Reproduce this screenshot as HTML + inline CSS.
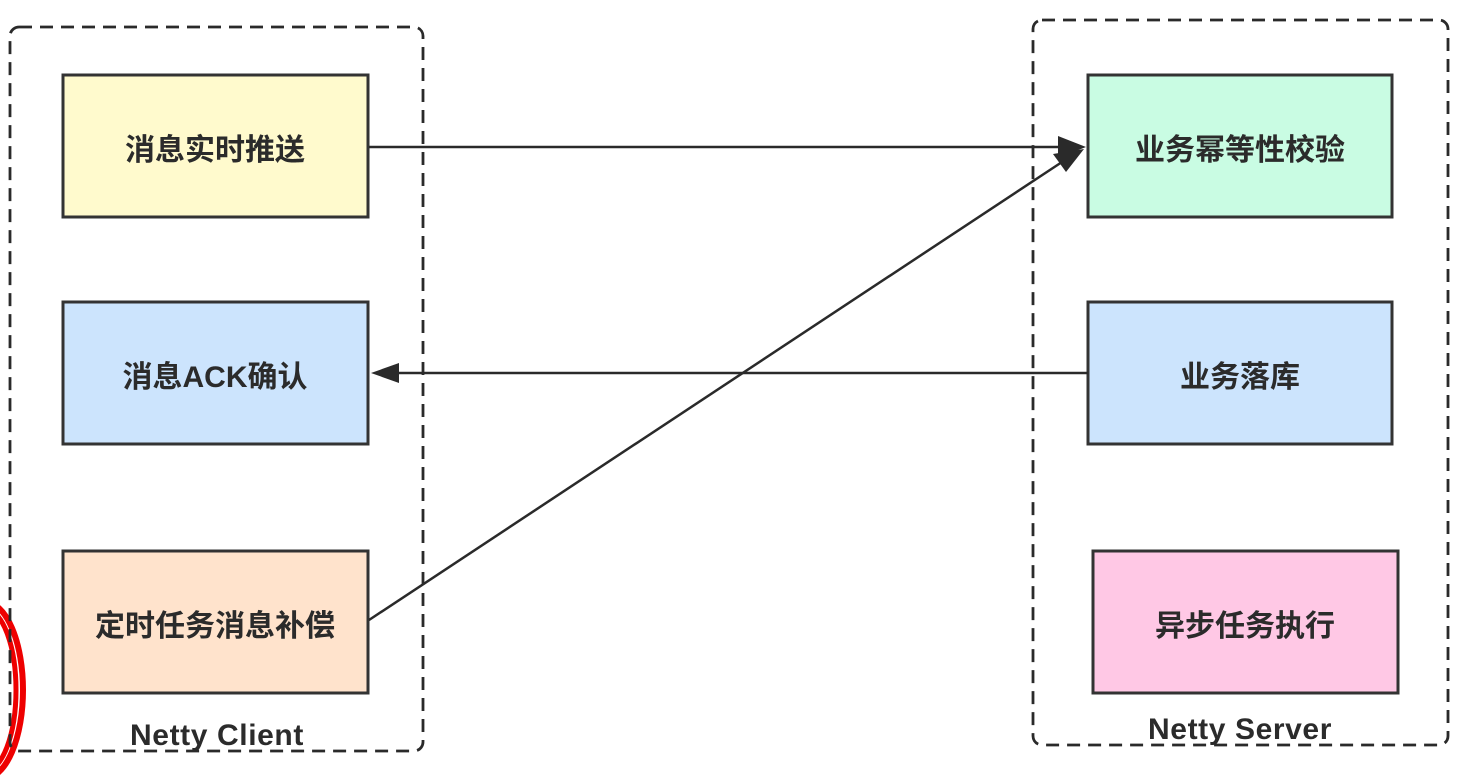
<!DOCTYPE html>
<html><head><meta charset="utf-8"><style>
html,body{margin:0;padding:0;background:#fff;width:1476px;height:780px;overflow:hidden}
svg{display:block}
text{font-family:"Liberation Sans","Noto Sans CJK SC",sans-serif;font-weight:bold;fill:#2b2b2b}
</style></head><body>
<svg width="1476" height="780" viewBox="0 0 1476 780" xmlns="http://www.w3.org/2000/svg">
<!-- red circle marks -->
<ellipse cx="-15" cy="690" rx="38" ry="88" fill="none" stroke="#e00" stroke-width="6"/>
<ellipse cx="-15" cy="690" rx="31" ry="81" fill="none" stroke="#e00" stroke-width="5"/>

<!-- containers -->
<rect x="10" y="27" width="413" height="724" rx="9" fill="none" stroke="#2a2a2a" stroke-width="2.8" stroke-dasharray="13,8"/>
<rect x="1033" y="20" width="415" height="725" rx="9" fill="none" stroke="#2a2a2a" stroke-width="2.8" stroke-dasharray="13,8"/>

<!-- boxes -->
<rect x="63" y="75" width="305" height="142" fill="#fffacd" stroke="#333" stroke-width="3"/>
<rect x="63" y="302" width="305" height="142" fill="#cce4fd" stroke="#333" stroke-width="3"/>
<rect x="63" y="551" width="305" height="142" fill="#ffe3cc" stroke="#333" stroke-width="3"/>
<rect x="1088" y="75" width="304" height="142" fill="#c9fce3" stroke="#333" stroke-width="3"/>
<rect x="1088" y="302" width="304" height="142" fill="#cce4fd" stroke="#333" stroke-width="3"/>
<rect x="1093" y="551" width="305" height="142" fill="#ffc8e5" stroke="#333" stroke-width="3"/>

<!-- connectors -->
<line x1="369" y1="147" x2="1062" y2="147" stroke="#2a2a2a" stroke-width="2.5"/>
<polygon points="1086,147 1058,136 1058,158" fill="#2a2a2a"/>
<line x1="369" y1="620" x2="1062" y2="162" stroke="#2a2a2a" stroke-width="2.5"/>
<polygon points="1084,149 1053,154 1066,172" fill="#2a2a2a"/>
<line x1="395" y1="373" x2="1088" y2="373" stroke="#2a2a2a" stroke-width="2.5"/>
<polygon points="371,373 399,363 399,383" fill="#2a2a2a"/>

<!-- labels -->
<text x="215" y="160" font-size="30" text-anchor="middle">消息实时推送</text>
<text x="215" y="387" font-size="30" text-anchor="middle">消息ACK确认</text>
<text x="215" y="636" font-size="30" text-anchor="middle">定时任务消息补偿</text>
<text x="1240" y="160" font-size="30" text-anchor="middle">业务幂等性校验</text>
<text x="1240" y="387" font-size="30" text-anchor="middle">业务落库</text>
<text x="1245" y="636" font-size="30" text-anchor="middle">异步任务执行</text>

<text x="217" y="745" font-size="30" text-anchor="middle" letter-spacing="0.6">Netty Client</text>
<text x="1240" y="739" font-size="30" text-anchor="middle" letter-spacing="0.6">Netty Server</text>
</svg>
</body></html>
